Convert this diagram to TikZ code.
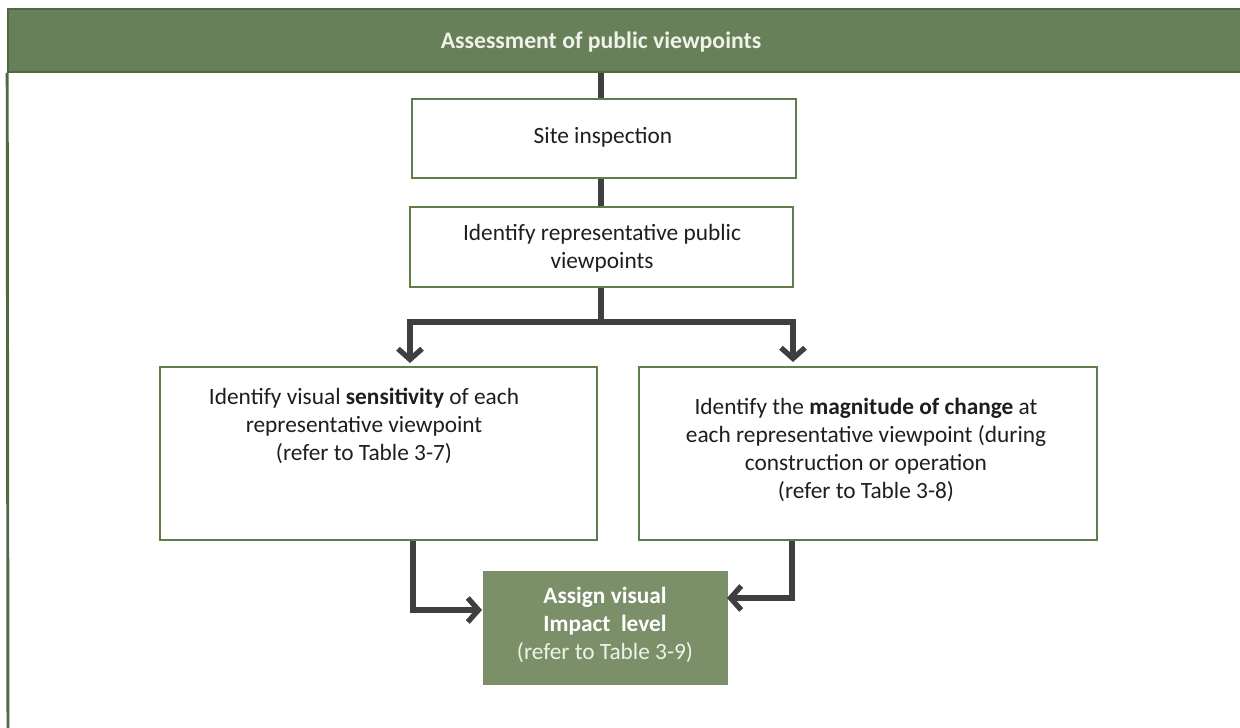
\documentclass[tikz,border=0pt]{standalone}
\usepackage{fontspec}
\setmainfont{Carlito}
\usetikzlibrary{arrows.meta,fit}

\definecolor{hdrgreen}{HTML}{68805A}
\definecolor{hdredge}{HTML}{4E6A40}
\definecolor{boxedge}{HTML}{5E7D4B}
\definecolor{assigngreen}{HTML}{7B9069}
\definecolor{connector}{HTML}{3F3F3F}
\definecolor{bodytext}{HTML}{1E1E1E}
\definecolor{lighttext}{HTML}{EEF2E8}

\begin{document}
\begin{tikzpicture}[x=0.75pt,y=-0.75pt,
  every node/.style={font=\fontsize{17.5}{21}\selectfont},
  stepbox/.style={draw=boxedge, line width=1.5pt, fill=white, inner sep=0pt},
  resultbox/.style={draw=assigngreen, line width=1pt, fill=assigngreen,
    inner sep=0pt},
  txt/.style={text=bodytext, align=center, inner sep=0pt},
  conn/.style={draw=connector, line width=4pt, line join=miter},
  arr/.style={conn, -{Straight Barb[length=8pt,width=18pt]}},
]
\useasboundingbox (0,0) rectangle (1240,728);
\fill[white] (0,0) rectangle (1240,728);

% title band and frame
\node[fit={(8,9)(1252,72)}, inner sep=0pt, fill=hdrgreen, draw=hdredge,
  line width=1.2pt] (hdr) {};
\node[text=lighttext, inner sep=0pt,
  font=\fontsize{17.8}{21}\selectfont\bfseries]
  (hdrt) at (601,42) {Assessment of public viewpoints};
\draw[hdredge, line width=2.2pt] (hdr.south west) -- (8,740);

% process steps: frames
\node[stepbox, fit={(412,99)(796,178)}] (site) {};
\node[stepbox, fit={(410,207)(793,287)}] (view) {};
\node[stepbox, fit={(160,367)(597,540)}] (sens) {};
\node[stepbox, fit={(639,367)(1097,540)}] (mag) {};
\node[resultbox, fit={(484,572)(727,684)}] (assign) {};

% process steps: texts
\node[txt] (sitet) at (603,137) {Site inspection};
\node[txt] (viewt) at (602,248) {Identify representative public\\viewpoints};
\node[txt] (senst) at (364,426)
  {Identify visual \textbf{sensitivity} of each\\representative viewpoint\\(refer to Table 3-7)};
\node[txt] (magt) at (866,450)
  {Identify the \textbf{magnitude of change} at\\each representative viewpoint (during\\construction or operation\\(refer to Table 3-8)};
\node[txt, text=white] (assignt) at (605,625)
  {\textbf{Assign visual}\\\textbf{Impact~ level}\\{\color{lighttext}(refer to Table 3-9)}};

% connector routing points
\coordinate (cx) at (601,0);
\coordinate (split) at (601,322);
\coordinate (la) at (410,363);
\coordinate (ra) at (793,362);
\coordinate (lb) at (413,0);
\coordinate (rb) at (792,0);
\coordinate (lin) at (482,610);
\coordinate (rin) at (727,598);

\draw[conn] (cx |- hdr.south) -- (cx |- site.north);
\draw[conn] (cx |- site.south) -- (cx |- view.north);
\draw[conn] (cx |- view.south) -- (split);
\draw[arr] (split) -| (la);
\draw[arr] (split) -| (ra);
\draw[arr] (lb |- sens.south) |- (lin);
\draw[arr] (rb |- mag.south) |- (rin);
\end{tikzpicture}
\end{document}
